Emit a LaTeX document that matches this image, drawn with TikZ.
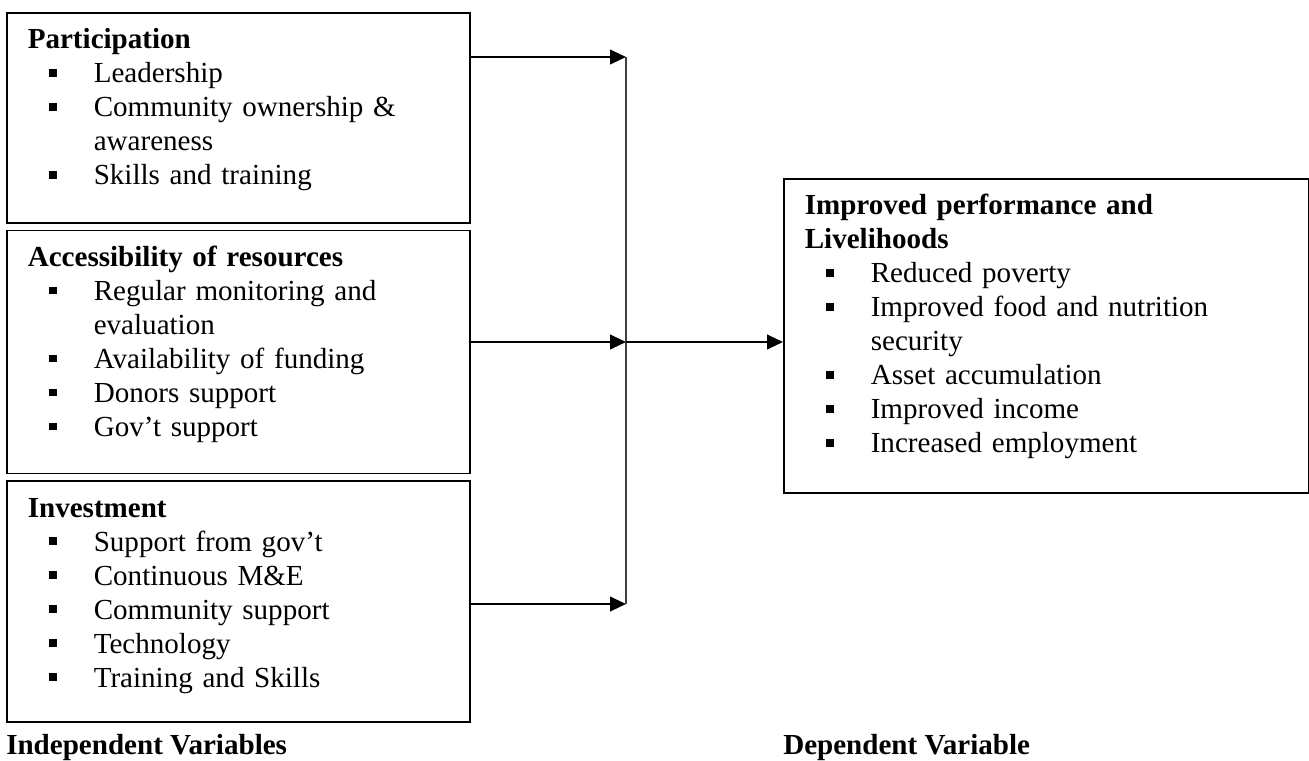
\documentclass[tikz,border=0pt]{standalone}
\usepackage{fontspec}
\setmainfont{Liberation Serif}
\usetikzlibrary{arrows.meta,positioning}
\newcommand{\bitem}[1]{\hspace*{15.75pt}\makebox[33.75pt][l]{\raisebox{4.6pt}{\rule{5.8pt}{5.8pt}}}#1}
\newcommand{\bcont}[1]{\hspace*{49.5pt}#1}

\begin{document}
\begin{tikzpicture}[
    node distance=4.5pt,
    box/.style={draw, line width=1.2pt, align=left, anchor=north west, inner xsep=15.75pt, inner ysep=12pt, text width=315.75pt, text height=15pt, font=\fontsize{21.8}{25.5}\selectfont},
    arrow/.style={-{Triangle[length=12pt,width=11pt]}, line width=1.5pt},
    link/.style={line width=0.9pt, draw=black!75},
    caption/.style={anchor=base west, inner sep=0pt, font=\fontsize{21.8}{25.5}\selectfont\bfseries}
]
\useasboundingbox (0,0) rectangle (981.75pt,-570pt);

\node[box, text depth=118.5pt] (part) at (4.5pt,-9pt) {\textbf{Participation}\\
  \bitem{Leadership}\\
  \bitem{Community ownership \&}\\
  \bcont{awareness}\\
  \bitem{Skills and training}};
\node[box, text depth=143.25pt, below=of part] (access) {\textbf{Accessibility of resources}\\
  \bitem{Regular monitoring and}\\
  \bcont{evaluation}\\
  \bitem{Availability of funding}\\
  \bitem{Donors support}\\
  \bitem{Gov’t support}};
\node[box, text depth=141.75pt, below=of access] (invest) {\textbf{Investment}\\
  \bitem{Support from gov’t}\\
  \bitem{Continuous M\&E}\\
  \bitem{Community support}\\
  \bitem{Technology}\\
  \bitem{Training and Skills}};
\node[box, text width=362.25pt, text depth=196.5pt] (outcome) at (587.25pt,-133.5pt) {\textbf{Improved performance and}\\
  \textbf{Livelihoods}\\
  \bitem{Reduced poverty}\\
  \bitem{Improved food and nutrition}\\
  \bcont{security}\\
  \bitem{Asset accumulation}\\
  \bitem{Improved income}\\
  \bitem{Increased employment}};

\node[caption] (indep) at ([yshift=-23.5pt]invest.south west) {Independent Variables};
\node[caption] (dep) at (outcome.west |- indep.base) {Dependent Variable};

\coordinate (jtop) at (469.5pt,-42.75pt);
\coordinate (jmid) at (469.5pt,-256.5pt);
\coordinate (jbot) at (469.5pt,-453pt);

\draw[arrow] (part.east |- jtop) -- (jtop);
\draw[arrow] (access.east |- jmid) -- (jmid);
\draw[arrow] (invest.east |- jbot) -- (jbot);
\draw[link] (jtop) -- (jbot);
\draw[arrow] (jmid) -- (outcome.west |- jmid);
\end{tikzpicture}
\end{document}
